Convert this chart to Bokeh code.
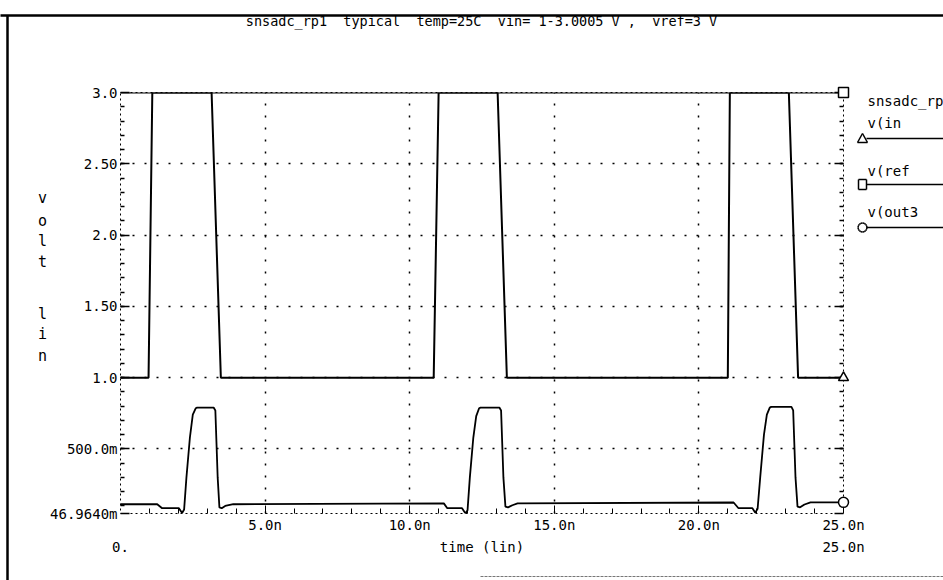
from bokeh.plotting import figure
from bokeh.models import Range1d, LinearAxis, FixedTicker
from bokeh.core.properties import value
from bokeh.embed import file_html
from bokeh.resources import INLINE
import math

# ---------------- data (time in ns, values in volts) ----------------
# double spaces of the original title are kept with a no-break space so they survive SVG rendering
TITLE = "snsadc_rp1 \u00a0typical \u00a0temp=25C \u00a0vin= 1-3.0005 V , \u00a0vref=3 V"

vin_t = [0.0, 0.97, 1.10, 3.15, 3.47, 10.83, 11.00, 13.04, 13.36, 21.00, 21.07, 23.11, 23.43, 25.0]
vin_v = [1.0, 1.0, 3.0, 3.0, 1.0, 1.0, 3.0, 3.0, 1.0, 1.0, 3.0, 3.0, 1.0, 1.0]

vref_t = [0.0, 25.0]
vref_v = [3.0, 3.0]

vout3_t = [0.00, 1.27, 1.44, 2.02, 2.13, 2.20, 2.28, 2.40, 2.50, 2.60, 2.65, 3.22, 3.28, 3.36, 3.42, 3.50, 3.62, 3.90,
           11.18, 11.30, 11.81, 11.93, 12.00, 12.08, 12.20, 12.30, 12.40, 12.45, 13.10, 13.16, 13.24, 13.31, 13.40, 13.55, 13.73,
           21.20, 21.37, 21.85, 21.95, 22.03, 22.12, 22.25, 22.35, 22.45, 22.50, 23.20, 23.26, 23.34, 23.41, 23.50, 23.65, 23.86, 25.00]
vout3_v = [0.112, 0.112, 0.084, 0.084, 0.050, 0.075, 0.30, 0.58, 0.74, 0.785, 0.79, 0.79, 0.77, 0.30, 0.09, 0.084, 0.100, 0.112,
           0.118, 0.084, 0.084, 0.046964, 0.07, 0.30, 0.58, 0.73, 0.785, 0.79, 0.79, 0.77, 0.30, 0.095, 0.090, 0.105, 0.118,
           0.124, 0.084, 0.084, 0.053, 0.08, 0.30, 0.60, 0.74, 0.79, 0.795, 0.795, 0.77, 0.30, 0.095, 0.090, 0.110, 0.125, 0.125]

x_ticks = [5, 10, 15, 20, 25]
x_tick_labels = ["5.0n", "10.0n", "15.0n", "20.0n", "25.0n"]
x_minor = list(range(1, 25))
x_grid = [5, 10, 15, 20]
x_end_labels = ["0.", "25.0n"]

y_ticks = [0.046964, 0.5, 1, 1.5, 2, 2.5, 3]
y_tick_labels = ["46.9640m", "500.0m", "1.0", "1.50", "2.0", "2.50", "3.0"]
y_minor = [round(0.1 * i, 1) for i in range(1, 30)]
y_grid = [0.5, 1, 1.5, 2, 2.5]

legend_title = "snsadc_rp1"
legend_names = ["v(in", "v(ref", "v(out3"]
legend_markers = ["triangle", "square", "circle"]
Y_LABEL = "volt lin"
X_LABEL = "time (lin)"

# ---------------- layout constants (page pixels) ----------------
W, H = 943, 580
FL, FR, FT, FB = 120, 843, 92, 513
X0, X1 = 0.0, 25.0
Y0, Y1 = 0.046964, 3.0
FONT = "DejaVu Sans Mono"


def dx(px):
    return X0 + (px - FL) * (X1 - X0) / (FR - FL)


def dy(py):
    return Y0 + (FB - py) * (Y1 - Y0) / (FB - FT)


p = figure(width=W, height=H, x_range=Range1d(X0, X1), y_range=Range1d(Y0, Y1),
           output_backend="svg", toolbar_location=None,
           min_border_left=FL, min_border_right=W - FR, min_border_top=FT, min_border_bottom=H - FB)
p.background_fill_color = "white"
p.border_fill_color = "white"
p.outline_line_color = "black"
p.outline_line_dash = "2 3"
p.outline_line_width = 1

# x axis
xa = p.xaxis[0]
xa.ticker = FixedTicker(ticks=x_ticks, minor_ticks=x_minor)
xa.major_label_overrides = dict(zip(x_ticks, x_tick_labels))
xa.axis_line_color = None
xa.major_tick_in = 8
xa.major_tick_out = 0
xa.minor_tick_in = 5
xa.minor_tick_out = 0
xa.major_tick_line_color = "black"
xa.minor_tick_line_color = "black"
xa.major_label_standoff = 3
xa.major_label_text_font = FONT
xa.major_label_text_font_size = "14px"
xa.major_label_text_color = "black"
xa.axis_label = X_LABEL
xa.axis_label_standoff = 3
xa.axis_label_text_font = FONT
xa.axis_label_text_font_size = "14px"
xa.axis_label_text_font_style = "normal"
xa.axis_label_text_color = "black"

# left y axis
ya = p.yaxis[0]
ya.ticker = FixedTicker(ticks=y_ticks, minor_ticks=y_minor)
ya.major_label_overrides = dict(zip(y_ticks, y_tick_labels))
ya.axis_line_color = None
ya.major_tick_in = 9
ya.major_tick_out = 0
ya.minor_tick_in = 4
ya.minor_tick_out = 0
ya.major_tick_line_width = 1.5
ya.minor_tick_line_width = 1.5
ya.major_label_standoff = 3
ya.major_label_text_font = FONT
ya.major_label_text_font_size = "14px"
ya.major_label_text_color = "black"

# right y axis (ticks only, no labels)
ra = LinearAxis(ticker=FixedTicker(ticks=y_ticks, minor_ticks=y_minor),
                axis_line_color=None, major_tick_in=9, major_tick_out=0,
                minor_tick_in=4, minor_tick_out=0, major_tick_line_width=1.5,
                minor_tick_line_width=1.5, major_label_standoff=0,
                major_label_text_font_size="14px")
ra.major_label_overrides = {t: "" for t in y_ticks}
p.add_layout(ra, "right")

# grids
p.xgrid.ticker = FixedTicker(ticks=x_grid)
p.ygrid.ticker = FixedTicker(ticks=y_grid)
for g in (p.xgrid[0], p.ygrid[0]):
    g.grid_line_color = "black"
    g.grid_line_dash = "2 10"
    g.grid_line_width = 1.5

# waveforms
p.line(vref_t, vref_v, line_color="black", line_width=2)
p.line(vin_t, vin_v, line_color="black", line_width=2)
p.line(vout3_t, vout3_v, line_color="black", line_width=1.8)

# end markers taken from the last sample of each series
for (ts, vs, mk) in ((vin_t, vin_v, "triangle"), (vref_t, vref_v, "square"), (vout3_t, vout3_v, "circle")):
    p.scatter([ts[-1]], [vs[-1]], marker=mk, size=10, fill_color="white",
              line_color="black", line_width=1.5, level="overlay")


def text(xs, ys, labels, align="left", size="14px"):
    p.text(x=xs, y=ys, text=labels, text_font=value(FONT), text_font_size=value(size),
           text_align=align, text_baseline="middle", text_color="black", level="overlay")


# title
text([dx(481)], [dy(20)], [TITLE], align="center", size="13.5px")

# vertical y label (one letter per row)
ypos = [197, 220, 240, 261, None, 313, 333, 355]
letters = [(c, yy) for c, yy in zip(Y_LABEL, ypos) if c != " " and yy is not None]
text([dx(42)] * len(letters), [dy(yy) for _, yy in letters], [c for c, _ in letters],
     align="center", size="15px")

# second row x labels (range ends)
text([X0, X1], [dy(546), dy(546)], x_end_labels, align="center")

# legend block on the right
MX = 862
leg_text_y = [122, 170, 211]
leg_line_y = [138, 184, 227]
text([dx(867)], [dy(100)], [legend_title])
text([dx(867)] * 3, [dy(v) for v in leg_text_y], legend_names)


def marker_outline(kind, cx, cy):
    if kind == "triangle":
        pts = [(cx - 5, cy + 4), (cx + 5, cy + 4), (cx, cy - 5)]
    elif kind == "square":
        pts = [(cx - 4, cy - 5), (cx + 4, cy - 5), (cx + 4, cy + 5), (cx - 4, cy + 5)]
    else:
        pts = [(cx + 4.5 * math.cos(2 * math.pi * k / 16), cy + 4.5 * math.sin(2 * math.pi * k / 16))
               for k in range(16)]
    segs = []
    for i in range(len(pts)):
        a, b = pts[i], pts[(i + 1) % len(pts)]
        segs.append((a[0], a[1], b[0], b[1]))
    return segs


segs = []
for mk, ly in zip(legend_markers, leg_line_y):
    segs.append((MX + 4, ly, W, ly))
    segs.extend(marker_outline(mk, MX, ly))
p.segment(x0=[dx(s[0]) for s in segs], y0=[dy(s[1]) for s in segs],
          x1=[dx(s[2]) for s in segs], y1=[dy(s[3]) for s in segs],
          line_color="black", line_width=1.5, level="overlay")

# page border (scanned frame)
p.segment(x0=[dx(0), dx(7)], y0=[dy(15), dy(15)], x1=[dx(W), dx(7)], y1=[dy(15), dy(H)],
          line_color="black", line_width=2.5, level="overlay")
p.segment(x0=[dx(480)], y0=[dy(576)], x1=[dx(W)], y1=[dy(576)],
          line_color="#777777", line_width=1, line_dash="3 1", level="overlay")

open("out.html", "w").write(file_html(p, INLINE))
